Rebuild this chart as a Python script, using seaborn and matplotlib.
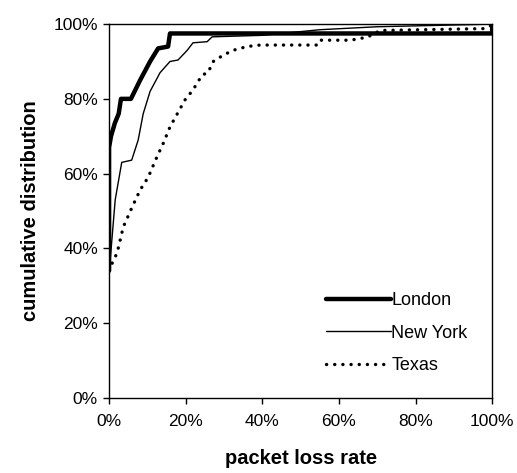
import pandas as pd
import matplotlib
matplotlib.use('Agg')
import matplotlib.pyplot as plt
import seaborn as sns

# packet loss rate (%) vs cumulative distribution (%)
london_x = [0, 0, 0.5, 1.5, 2.5, 3.1, 5.7, 8.1, 10.7, 12.8, 15.4, 15.9, 100, 100]
london_y = [34, 67, 70, 73.5, 76, 80, 80, 85, 90, 93.5, 94, 97.5, 97.5, 100]

ny_x = [0, 0.3, 1.6, 3.3, 5.9, 7.6, 8.9, 10.7, 13.3, 15.9, 18.0, 20.4, 21.9, 25.6, 26.9, 40, 55, 70, 100]
ny_y = [34, 37, 53, 63, 63.6, 69, 76, 82, 87, 90, 90.4, 93, 95, 95.3, 96.6, 97, 98.5, 99.3, 100]

texas_x = [0, 0.8, 2.1, 3.7, 6.0, 8.1, 10.2, 12.5, 14.1, 15.9, 17.8, 19.8, 21.9, 24.3, 25.8, 27.2,
           29.8, 32.4, 36.0, 39.4, 54.3, 55, 63, 67.4, 70.8, 97.7, 99.5, 100]
texas_y = [34, 36, 38.8, 45.7, 51, 55.6, 59, 64.5, 68, 72.5, 76, 79.7, 82.4, 86.4, 87, 90,
           91.7, 93, 94, 94.4, 94.4, 95.7, 95.7, 96.5, 98.3, 98.8, 99.5, 100]

ticks = [0, 20, 40, 60, 80, 100]
tick_labels = ['0%', '20%', '40%', '60%', '80%', '100%']

sns.set_style('white')
plt.rcParams['font.family'] = ['Liberation Sans', 'DejaVu Sans']
plt.rcParams['text.color'] = 'black'
plt.rcParams['axes.labelcolor'] = 'black'

fig = plt.figure(figsize=(5.17, 4.73), dpi=100)
ax = fig.add_axes([0.211, 0.159, 0.741, 0.790])

sns.lineplot(x=london_x, y=london_y, ax=ax, color='black', linewidth=3.2,
             estimator=None, sort=False, label='London')
sns.lineplot(x=ny_x, y=ny_y, ax=ax, color='black', linewidth=1.0,
             estimator=None, sort=False, label='New York')
sns.lineplot(x=texas_x, y=texas_y, ax=ax, color='black', linewidth=2.4,
             linestyle=(0, (0.05, 2.4)), dash_capstyle='round',
             estimator=None, sort=False, label='Texas')

ax.set_xlim(0, 100)
ax.set_ylim(0, 100)
ax.set_xticks(ticks)
ax.set_xticklabels(tick_labels)
ax.set_yticks(ticks)
ax.set_yticklabels(tick_labels)
ax.tick_params(axis='both', direction='out', length=4, width=1, colors='black',
               labelsize=12.5, bottom=True, left=True, pad=4)
ax.tick_params(axis='x', pad=8)
for s in ax.spines.values():
    s.set_color('black')
    s.set_linewidth(1.0)

ax.set_xlabel('packet loss rate', fontsize=14.5, fontweight='bold', labelpad=14)
ax.set_ylabel('cumulative distribution', fontsize=14.5, fontweight='bold', labelpad=10)

leg = ax.legend(loc='upper left', bbox_to_anchor=(0.565, 0.282), frameon=False,
                fontsize=13, handlelength=3.6, handletextpad=0.05,
                labelspacing=0.85, borderaxespad=0, borderpad=0)

plt.savefig('out.png', dpi=100)
